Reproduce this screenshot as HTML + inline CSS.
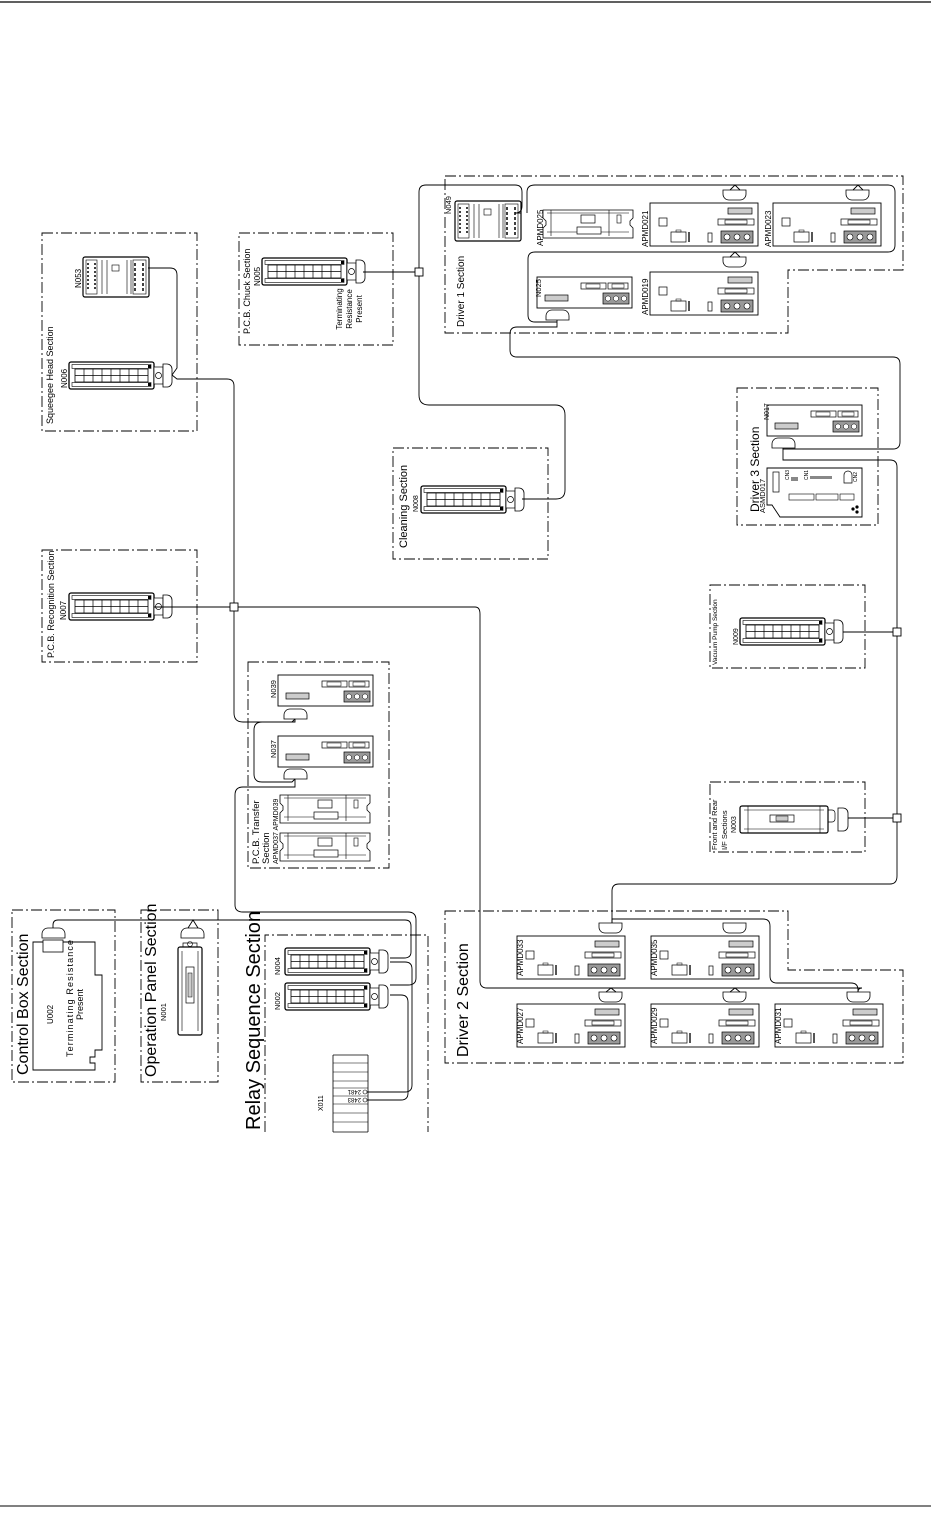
<!DOCTYPE html>
<html><head><meta charset="utf-8"><style>
html,body{margin:0;padding:0;background:#fff}
svg{display:block}
text{font-family:"Liberation Sans",sans-serif;fill:#000}
.b{fill:none;stroke:#000;stroke-width:0.9;stroke-dasharray:11 3 2 3}
.w{fill:none;stroke:#000;stroke-width:0.9}
</style></head><body>
<svg width="931" height="1518" viewBox="0 0 931 1518" xmlns="http://www.w3.org/2000/svg">
<defs>
<g id="relay">
 <rect x="0" y="0" width="85" height="27" rx="2" fill="#fff" stroke="#000" stroke-width="1.3"/>
 <rect x="3" y="2.5" width="79" height="4" fill="#fff" stroke="#000" stroke-width="0.6"/>
 <rect x="3" y="20.5" width="79" height="4" fill="#fff" stroke="#000" stroke-width="0.6"/>
 <rect x="6" y="7" width="73" height="13" fill="#fff" stroke="#000" stroke-width="0.8"/>
 <path d="M15 7v13M24 7v13M33 7v13M42 7v13M51 7v13M60 7v13M69 7v13M6 13.5h73" stroke="#000" stroke-width="0.7"/>
 <rect x="79" y="3" width="3" height="3" fill="#000"/><rect x="79" y="21" width="3" height="3" fill="#000"/>
 <rect x="85" y="5" width="9" height="17" fill="#fff" stroke="#000" stroke-width="0.7"/>
 <circle cx="89.5" cy="13.5" r="3" fill="none" stroke="#000" stroke-width="0.7"/>
 <path d="M94 2h4a5 5 0 0 1 5 5v13a5 5 0 0 1 -5 5h-4z" fill="#fff" stroke="#000" stroke-width="0.8"/>
</g>
<g id="drv">
 <rect x="0" y="0" width="108" height="43" fill="#fff" stroke="#000" stroke-width="0.9"/>
 <rect x="9" y="15" width="8" height="8" fill="none" stroke="#000" stroke-width="0.7"/>
 <rect x="21" y="29" width="15" height="10" fill="none" stroke="#000" stroke-width="0.7"/>
 <rect x="26" y="27" width="5" height="2" fill="none" stroke="#000" stroke-width="0.5"/>
 <rect x="38" y="29" width="2" height="10" fill="#555"/>
 <rect x="58" y="30" width="4" height="9" fill="none" stroke="#000" stroke-width="0.7"/>
 <rect x="71" y="28" width="32" height="12" fill="#999" stroke="#000" stroke-width="0.7"/>
 <circle cx="77" cy="34" r="3" fill="#fff" stroke="#000" stroke-width="0.6"/><circle cx="87" cy="34" r="3" fill="#fff" stroke="#000" stroke-width="0.6"/><circle cx="97" cy="34" r="3" fill="#fff" stroke="#000" stroke-width="0.6"/>
 <rect x="68" y="16" width="36" height="6" fill="none" stroke="#000" stroke-width="0.7"/>
 <rect x="75" y="17" width="22" height="4" fill="none" stroke="#000" stroke-width="0.6"/>
 <rect x="78" y="5" width="24" height="6" fill="#ccc" stroke="#000" stroke-width="0.7"/>
</g>
<g id="nmod">
 <rect x="0" y="0" width="95" height="31" fill="#fff" stroke="#000" stroke-width="0.9"/>
 <rect x="8" y="18" width="23" height="6" fill="#ccc" stroke="#000" stroke-width="0.7"/>
 <rect x="44" y="6" width="25" height="6" fill="none" stroke="#000" stroke-width="0.7"/>
 <rect x="49" y="7" width="14" height="4" fill="none" stroke="#000" stroke-width="0.5"/>
 <rect x="71" y="6" width="20" height="6" fill="none" stroke="#000" stroke-width="0.7"/>
 <rect x="75" y="7" width="12" height="4" fill="none" stroke="#000" stroke-width="0.5"/>
 <rect x="66" y="16" width="26" height="11" fill="#999" stroke="#000" stroke-width="0.7"/>
 <circle cx="71" cy="21.5" r="2.6" fill="#fff" stroke="#000" stroke-width="0.5"/><circle cx="79" cy="21.5" r="2.6" fill="#fff" stroke="#000" stroke-width="0.5"/><circle cx="87" cy="21.5" r="2.6" fill="#fff" stroke="#000" stroke-width="0.5"/>
</g>
<g id="cap">
 <path d="M0 0h23v4a6 6 0 0 1 -6 6h-11a6 6 0 0 1 -6 -6z" fill="#fff" stroke="#000" stroke-width="0.8"/>
</g>
<g id="capu">
 <path d="M0 10h23v-4a6 6 0 0 0 -6 -6h-11a6 6 0 0 0 -6 6z" fill="#fff" stroke="#000" stroke-width="0.8"/>
</g>
<g id="term">
 <rect x="0" y="0" width="66" height="40" rx="2" fill="#fff" stroke="#000" stroke-width="1.2"/>
 <rect x="3" y="3" width="11" height="34" fill="none" stroke="#000" stroke-width="0.6"/>
 <path d="M5 6v28M12 6v28" stroke="#000" stroke-width="1.5" stroke-dasharray="2 2"/>
 <path d="M19 3v34M24 3v34M44 3v34M48 3v34" stroke="#000" stroke-width="0.6"/>
 <rect x="29" y="8" width="7" height="6" fill="none" stroke="#000" stroke-width="0.6"/>
 <rect x="50" y="3" width="13" height="34" fill="none" stroke="#000" stroke-width="0.6"/>
 <path d="M52 6v28M60 6v28" stroke="#000" stroke-width="1.5" stroke-dasharray="3 2"/>
</g>
<g id="brd">
 <path d="M0 2h90v8l-3 3v4l3 3v10h-90v-10l3-3v-4l-3-3z" fill="#fff" stroke="#000" stroke-width="0.8"/>
 <path d="M4 5h82M4 24h82M8 2v26M66 2v26" stroke="#000" stroke-width="0.6"/>
 <rect x="38" y="7" width="14" height="8" fill="#fff" stroke="#000" stroke-width="0.7"/>
 <rect x="34" y="19" width="24" height="7" fill="#fff" stroke="#000" stroke-width="0.7"/>
 <rect x="74" y="7" width="4" height="8" fill="none" stroke="#000" stroke-width="0.6"/>
</g>
</defs>

<line x1="0" y1="2" x2="931" y2="2" stroke="#000" stroke-width="1.3"/>
<line x1="0" y1="1506" x2="931" y2="1506" stroke="#000" stroke-width="1"/>

<!-- Squeegee -->
<rect class="b" x="42" y="233" width="155" height="198"/>
<text font-size="9" transform="translate(53,424) rotate(-90)">Squeegee Head Section</text>
<use href="#term" x="83" y="257"/>
<text font-size="8" transform="translate(81,288) rotate(-90)">N053</text>
<use href="#relay" x="69" y="362"/>
<text font-size="8" transform="translate(67,388) rotate(-90)">N006</text>

<!-- Chuck -->
<rect class="b" x="239" y="233" width="154" height="112"/>
<text font-size="9" transform="translate(250,334) rotate(-90)">P.C.B. Chuck Section</text>
<use href="#relay" x="262" y="258"/>
<text font-size="8" transform="translate(260,286) rotate(-90)">N005</text>
<text font-size="8" text-anchor="middle" transform="translate(342,309) rotate(-90)">Terminating</text>
<text font-size="8" text-anchor="middle" transform="translate(352,309) rotate(-90)">Resistance</text>
<text font-size="8" text-anchor="middle" transform="translate(362,309) rotate(-90)">Present</text>

<!-- Recognition -->
<rect class="b" x="42" y="550" width="155" height="112"/>
<text font-size="9" transform="translate(54,658) rotate(-90)">P.C.B. Recognition Section</text>
<use href="#relay" x="69" y="593"/>
<text font-size="8" transform="translate(66,620) rotate(-90)">N007</text>

<!-- Cleaning -->
<rect class="b" x="393" y="448" width="155" height="111"/>
<text font-size="11" transform="translate(407,548) rotate(-90)">Cleaning Section</text>
<use href="#relay" x="421" y="486"/>
<text font-size="7" transform="translate(418,512) rotate(-90)">N008</text>

<!-- PCB transfer -->
<rect class="b" x="248" y="662" width="141" height="206"/>
<use href="#nmod" x="278" y="675"/>
<text font-size="7.5" transform="translate(276,698) rotate(-90)">N039</text>
<use href="#capu" x="284" y="709"/>
<use href="#nmod" x="278" y="736"/>
<text font-size="7.5" transform="translate(276,758) rotate(-90)">N037</text>
<use href="#capu" x="284" y="769"/>
<use href="#brd" x="280" y="793"/>
<use href="#brd" x="280" y="831"/>
<text font-size="9.5" transform="translate(259,864) rotate(-90)">P.C.B. Transfer</text>
<text font-size="9.5" transform="translate(269,864) rotate(-90)">Section</text>
<text font-size="7" transform="translate(278,864) rotate(-90)">APMD037 APMD039</text>

<!-- Driver 1 -->
<path class="b" d="M445 176H903V270H788V333H445Z"/>
<text font-size="10" transform="translate(464,327) rotate(-90)">Driver 1 Section</text>
<use href="#term" x="455" y="201"/>
<text font-size="7.5" transform="translate(451,214) rotate(-90)">N049</text>
<use href="#brd" x="543" y="208"/>
<text font-size="8" transform="translate(543,246) rotate(-90)">APMD025</text>
<use href="#drv" x="650" y="203"/>
<text font-size="8" transform="translate(648,247) rotate(-90)">APMD021</text>
<use href="#drv" x="773" y="203"/>
<text font-size="8" transform="translate(771,247) rotate(-90)">APMD023</text>
<use href="#nmod" x="537" y="277"/>
<text font-size="7.5" transform="translate(541,297) rotate(-90)">N025</text>
<use href="#drv" x="650" y="272"/>
<text font-size="8" transform="translate(648,315) rotate(-90)">APMD019</text>
<use href="#cap" x="723" y="190"/>
<use href="#cap" x="846" y="190"/>
<use href="#cap" x="723" y="257"/>
<use href="#capu" x="546" y="310"/>

<!-- Driver 3 -->
<rect class="b" x="737" y="388" width="141" height="137"/>
<text font-size="12" transform="translate(759,512) rotate(-90)">Driver 3 Section</text>
<use href="#nmod" x="767" y="405"/>
<text font-size="7" transform="translate(769,420) rotate(-90)">N017</text>
<use href="#capu" x="772" y="438"/>
<path d="M767 468H862V517H780L772 505H767Z" fill="#fff" stroke="#000" stroke-width="0.9"/>
<rect x="773" y="472" width="6" height="20" fill="none" stroke="#000" stroke-width="0.7"/>
<rect x="791" y="477" width="7" height="4" fill="#888"/>
<rect x="810" y="476" width="22" height="3" fill="#888"/>
<path d="M844 483v-8a4 4 0 0 1 8 0v8z" fill="none" stroke="#000" stroke-width="0.7"/>
<rect x="789" y="494" width="25" height="6" fill="none" stroke="#000" stroke-width="0.6"/>
<rect x="816" y="494" width="22" height="6" fill="none" stroke="#000" stroke-width="0.6"/>
<rect x="840" y="494" width="14" height="6" fill="none" stroke="#000" stroke-width="0.6"/>
<circle cx="853" cy="509" r="1.6" fill="#000"/><circle cx="857" cy="507" r="1.6" fill="#000"/><circle cx="857" cy="512" r="1.6" fill="#000"/>
<text font-size="5" transform="translate(789,480) rotate(-90)">CN3</text>
<text font-size="5" transform="translate(808,480) rotate(-90)">CN1</text>
<text font-size="5" transform="translate(857,482) rotate(-90)">CN2</text>
<text font-size="7.5" transform="translate(765,513) rotate(-90)">ASMD017</text>

<!-- Vacuum -->
<rect class="b" x="710" y="585" width="155" height="83"/>
<text font-size="6.5" transform="translate(717,665) rotate(-90)">Vacuum Pump Section</text>
<use href="#relay" x="740" y="618"/>
<text font-size="7" transform="translate(738,645) rotate(-90)">N009</text>

<!-- Front/Rear -->
<rect class="b" x="710" y="782" width="155" height="70"/>
<text font-size="7.5" transform="translate(717,850) rotate(-90)">Front and Rear</text>
<text font-size="7.5" transform="translate(727,850) rotate(-90)">I/F Sections</text>
<text font-size="7" transform="translate(736,833) rotate(-90)">N003</text>
<rect x="740" y="806" width="88" height="27" rx="2" fill="#fff" stroke="#000" stroke-width="1.2"/>
<path d="M744 810h80M744 829h80M748 806v27M820 806v27" stroke="#000" stroke-width="0.6"/>
<rect x="770" y="815" width="24" height="7" fill="#fff" stroke="#000" stroke-width="0.7"/>
<rect x="776" y="816" width="12" height="5" fill="#ccc" stroke="#000" stroke-width="0.5"/>
<path d="M828 810h4a3 3 0 0 1 3 3v6a3 3 0 0 1 -3 3h-4z" fill="none" stroke="#000" stroke-width="0.7"/>
<path d="M838 808h5a5 5 0 0 1 5 5v13a5 5 0 0 1 -5 5h-5z" fill="#fff" stroke="#000" stroke-width="0.8"/>

<!-- Driver 2 -->
<path class="b" d="M445 911H788V970H903V1063H445Z"/>
<text font-size="16" transform="translate(468,1057) rotate(-90)">Driver 2 Section</text>
<use href="#drv" x="517" y="936"/>
<text font-size="8" transform="translate(523,976) rotate(-90)">APMD033</text>
<use href="#drv" x="651" y="936"/>
<text font-size="8" transform="translate(657,976) rotate(-90)">APMD035</text>
<use href="#drv" x="517" y="1004"/>
<text font-size="8" transform="translate(523,1044) rotate(-90)">APMD027</text>
<use href="#drv" x="651" y="1004"/>
<text font-size="8" transform="translate(657,1044) rotate(-90)">APMD029</text>
<use href="#drv" x="775" y="1004"/>
<text font-size="8" transform="translate(781,1044) rotate(-90)">APMD031</text>
<use href="#cap" x="599" y="923"/>
<use href="#cap" x="723" y="923"/>
<use href="#cap" x="599" y="992"/>
<use href="#cap" x="723" y="992"/>
<use href="#cap" x="847" y="992"/>

<!-- Control box -->
<rect class="b" x="12" y="910" width="103" height="172"/>
<text font-size="16" transform="translate(28,1075) rotate(-90)">Control Box Section</text>
<path d="M33 942H95V975H102V1050H95V1057H90V1063H95V1070H33Z" fill="none" stroke="#000" stroke-width="0.9"/>
<rect x="43" y="940" width="20" height="12" fill="#fff" stroke="#000" stroke-width="0.8"/>
<use href="#capu" x="42" y="928"/>
<text font-size="8" transform="translate(53,1024) rotate(-90)">U002</text>
<text font-size="9" transform="translate(73,1057) rotate(-90)" textLength="117">Terminating Resistance</text>
<text font-size="9" transform="translate(83,1020) rotate(-90)">Present</text>

<!-- Operation panel -->
<rect class="b" x="141" y="910" width="77" height="172"/>
<text font-size="16" transform="translate(156,1077) rotate(-90)">Operation Panel Section</text>
<text font-size="7.5" transform="translate(166,1021) rotate(-90)">N001</text>
<rect x="178" y="947" width="24" height="88" rx="2" fill="#fff" stroke="#000" stroke-width="1.2"/>
<path d="M182 951v80M198 951v80" stroke="#000" stroke-width="0.6"/>
<path d="M183 947v-4h14v4" fill="none" stroke="#000" stroke-width="0.7"/>
<circle cx="190" cy="944" r="2.5" fill="none" stroke="#000" stroke-width="0.6"/>
<rect x="186" y="967" width="8" height="36" fill="#fff" stroke="#000" stroke-width="0.7"/>
<rect x="188" y="973" width="4" height="24" fill="#ccc" stroke="#000" stroke-width="0.5"/>
<use href="#capu" x="181" y="928"/>

<!-- Relay sequence -->
<path class="b" d="M265 1132V935H428V1132"/>
<text font-size="20" transform="translate(260,1130) rotate(-90)">Relay Sequence Section</text>
<use href="#relay" x="285" y="948"/>
<text font-size="7.5" transform="translate(280,975) rotate(-90)">N004</text>
<use href="#relay" x="285" y="983"/>
<text font-size="7.5" transform="translate(280,1010) rotate(-90)">N002</text>
<path d="M333 1055h35M333 1132h35M333 1055v77M368 1055v77" fill="none" stroke="#000" stroke-width="0.8"/>
<path d="M333 1063h35M333 1072h35M333 1081h35M333 1088h35M333 1096h35M333 1104h35M333 1113h35M333 1122h35" stroke="#000" stroke-width="0.6"/>
<circle cx="365" cy="1092" r="2" fill="none" stroke="#000" stroke-width="0.6"/>
<circle cx="365" cy="1100" r="2" fill="none" stroke="#000" stroke-width="0.6"/>
<text font-size="6" transform="translate(361,1090) rotate(180)">2481</text>
<text font-size="6" transform="translate(361,1098) rotate(180)">2483</text>
<text font-size="7" transform="translate(323,1111) rotate(-90)">X011</text>

<!-- Wires -->
<path class="w" d="M148 268H170Q177 268 177 275V368L172 375"/>
<path class="w" d="M172 375L177 379H227Q234 379 234 386V713Q234 722 243 722H292L295 719"/>
<path class="w" d="M295 719V722H262Q254 722 254 730V774Q254 782 262 782H292L295 779"/>
<path class="w" d="M295 779V787H243Q235 787 235 795V905Q235 912 243 912H408Q416 912 416 920V978Q416 985 408 985H390"/>
<path class="w" d="M53 928V925Q53 920 58 920H405Q411 920 411 926V952Q411 958 404 958H390"/>
<path class="w" d="M188 928L193 920L198 928"/>
<path class="w" d="M390 962H405Q412 962 412 969V1085Q412 1092 405 1092H367"/>
<path class="w" d="M390 995H401Q408 995 408 1002V1093Q408 1100 401 1100H367"/>
<path class="w" d="M154 607H475Q480 607 480 614V981Q480 988 487 988H862Q858 988 858 992"/>
<path class="w" d="M606 992L611 988L616 992M730 992L735 988L740 992"/>
<path class="w" d="M363 272H419"/>
<path class="w" d="M419 272V192Q419 185 426 185H515Q522 185 522 192V206Q522 213 515 213H521"/>
<path class="w" d="M527 213V192Q527 185 535 185H888Q895 185 895 192V245Q895 252 888 252H535Q528 252 528 259V315Q528 322 535 322H557"/>
<path class="w" d="M730 190L735 185L740 190M853 190L858 185L863 190M730 257L735 252L740 257"/>
<path class="w" d="M557 320V327H517Q510 327 510 334V350Q510 357 517 357H893Q900 357 900 364V442Q900 449 893 449H783L783 448"/>
<path class="w" d="M783 448V460H890Q897 460 897 467V876Q897 884 890 884H619Q612 884 612 891V923"/>
<path class="w" d="M612 923L612 919H763Q770 919 770 926V976Q770 983 777 983H851Q858 983 858 990V992"/>
<path class="w" d="M419 272V395Q419 405 429 405H555Q565 405 565 415V490Q565 499 556 499H522"/>
<path class="w" d="M843 632H897M848 818H897"/>
<rect x="415" y="268" width="8" height="8" fill="#fff" stroke="#000" stroke-width="0.9"/>
<rect x="230" y="603" width="8" height="8" fill="#fff" stroke="#000" stroke-width="0.9"/>
<rect x="893" y="628" width="8" height="8" fill="#fff" stroke="#000" stroke-width="0.9"/>
<rect x="893" y="814" width="8" height="8" fill="#fff" stroke="#000" stroke-width="0.9"/>
</svg>
</body></html>
